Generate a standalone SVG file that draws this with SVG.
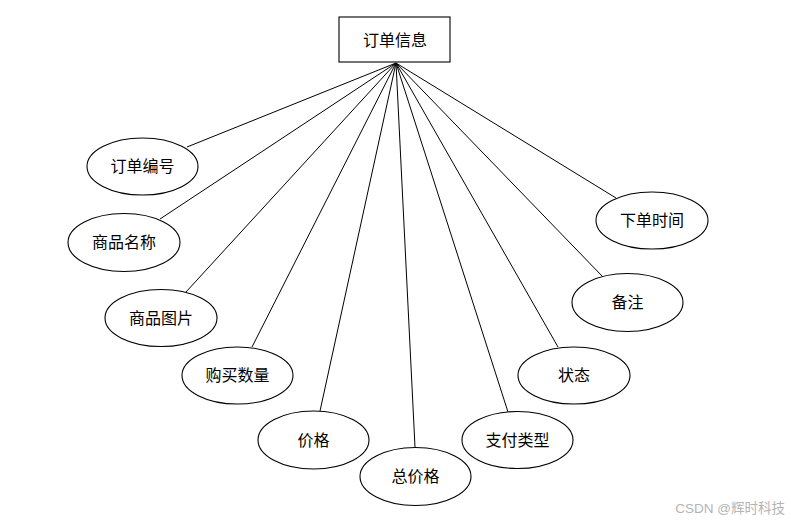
<svg xmlns="http://www.w3.org/2000/svg" width="791" height="521" viewBox="0 0 791 521">
<style>
.n{fill:#fff;stroke:#000;stroke-width:1.1}
.t{font-family:"Liberation Serif","Noto Sans CJK SC",serif;font-size:16px;fill:#000;text-anchor:middle;dominant-baseline:central}
.c line{stroke:#000;stroke-width:1}
.w{font-family:"Liberation Sans","Noto Sans CJK SC",sans-serif;font-size:13.5px;fill:#b4b4b4;text-anchor:end}
</style>
<rect width="791" height="521" fill="#fff"/>
<g class="c" id="connectors">
<line x1="396" y1="63" x2="187" y2="147"/>
<line x1="396" y1="63" x2="160" y2="219"/>
<line x1="396" y1="63" x2="186" y2="292"/>
<line x1="396" y1="63" x2="252" y2="347"/>
<line x1="396" y1="63" x2="320" y2="411"/>
<line x1="396" y1="63" x2="415" y2="447"/>
<line x1="396" y1="63" x2="508" y2="412"/>
<line x1="396" y1="63" x2="558" y2="347"/>
<line x1="396" y1="63" x2="603" y2="277"/>
<line x1="396" y1="63" x2="616" y2="198"/>
</g>
<g id="order"><rect class="n" x="339" y="17" width="111" height="45"/><text class="t" x="395" y="40">订单信息</text></g>
<g id="a1"><ellipse class="n" cx="142.5" cy="166.5" rx="55.5" ry="28.5"/><text class="t" x="142.5" y="166.5">订单编号</text></g>
<g id="a2"><ellipse class="n" cx="124" cy="242.5" rx="56" ry="29"/><text class="t" x="124" y="242.5">商品名称</text></g>
<g id="a3"><ellipse class="n" cx="161" cy="318" rx="56" ry="28.5"/><text class="t" x="161" y="318">商品图片</text></g>
<g id="a4"><ellipse class="n" cx="237.5" cy="375.5" rx="55.5" ry="28.5"/><text class="t" x="237.5" y="375.5">购买数量</text></g>
<g id="a5"><ellipse class="n" cx="313.5" cy="440" rx="55.5" ry="29"/><text class="t" x="313.5" y="440">价格</text></g>
<g id="a6"><ellipse class="n" cx="415.5" cy="476.5" rx="55.5" ry="29"/><text class="t" x="415.5" y="476.5">总价格</text></g>
<g id="a7"><ellipse class="n" cx="517.5" cy="440" rx="55.5" ry="28.5"/><text class="t" x="517.5" y="440">支付类型</text></g>
<g id="a8"><ellipse class="n" cx="574" cy="375.5" rx="56" ry="28.5"/><text class="t" x="574" y="375.5">状态</text></g>
<g id="a9"><ellipse class="n" cx="627.5" cy="302.5" rx="55.5" ry="29"/><text class="t" x="627.5" y="302.5">备注</text></g>
<g id="a10"><ellipse class="n" cx="652" cy="220.5" rx="56" ry="28.5"/><text class="t" x="652" y="220.5">下单时间</text></g>
<text class="w" x="785" y="513">CSDN @辉时科技</text>
</svg>
